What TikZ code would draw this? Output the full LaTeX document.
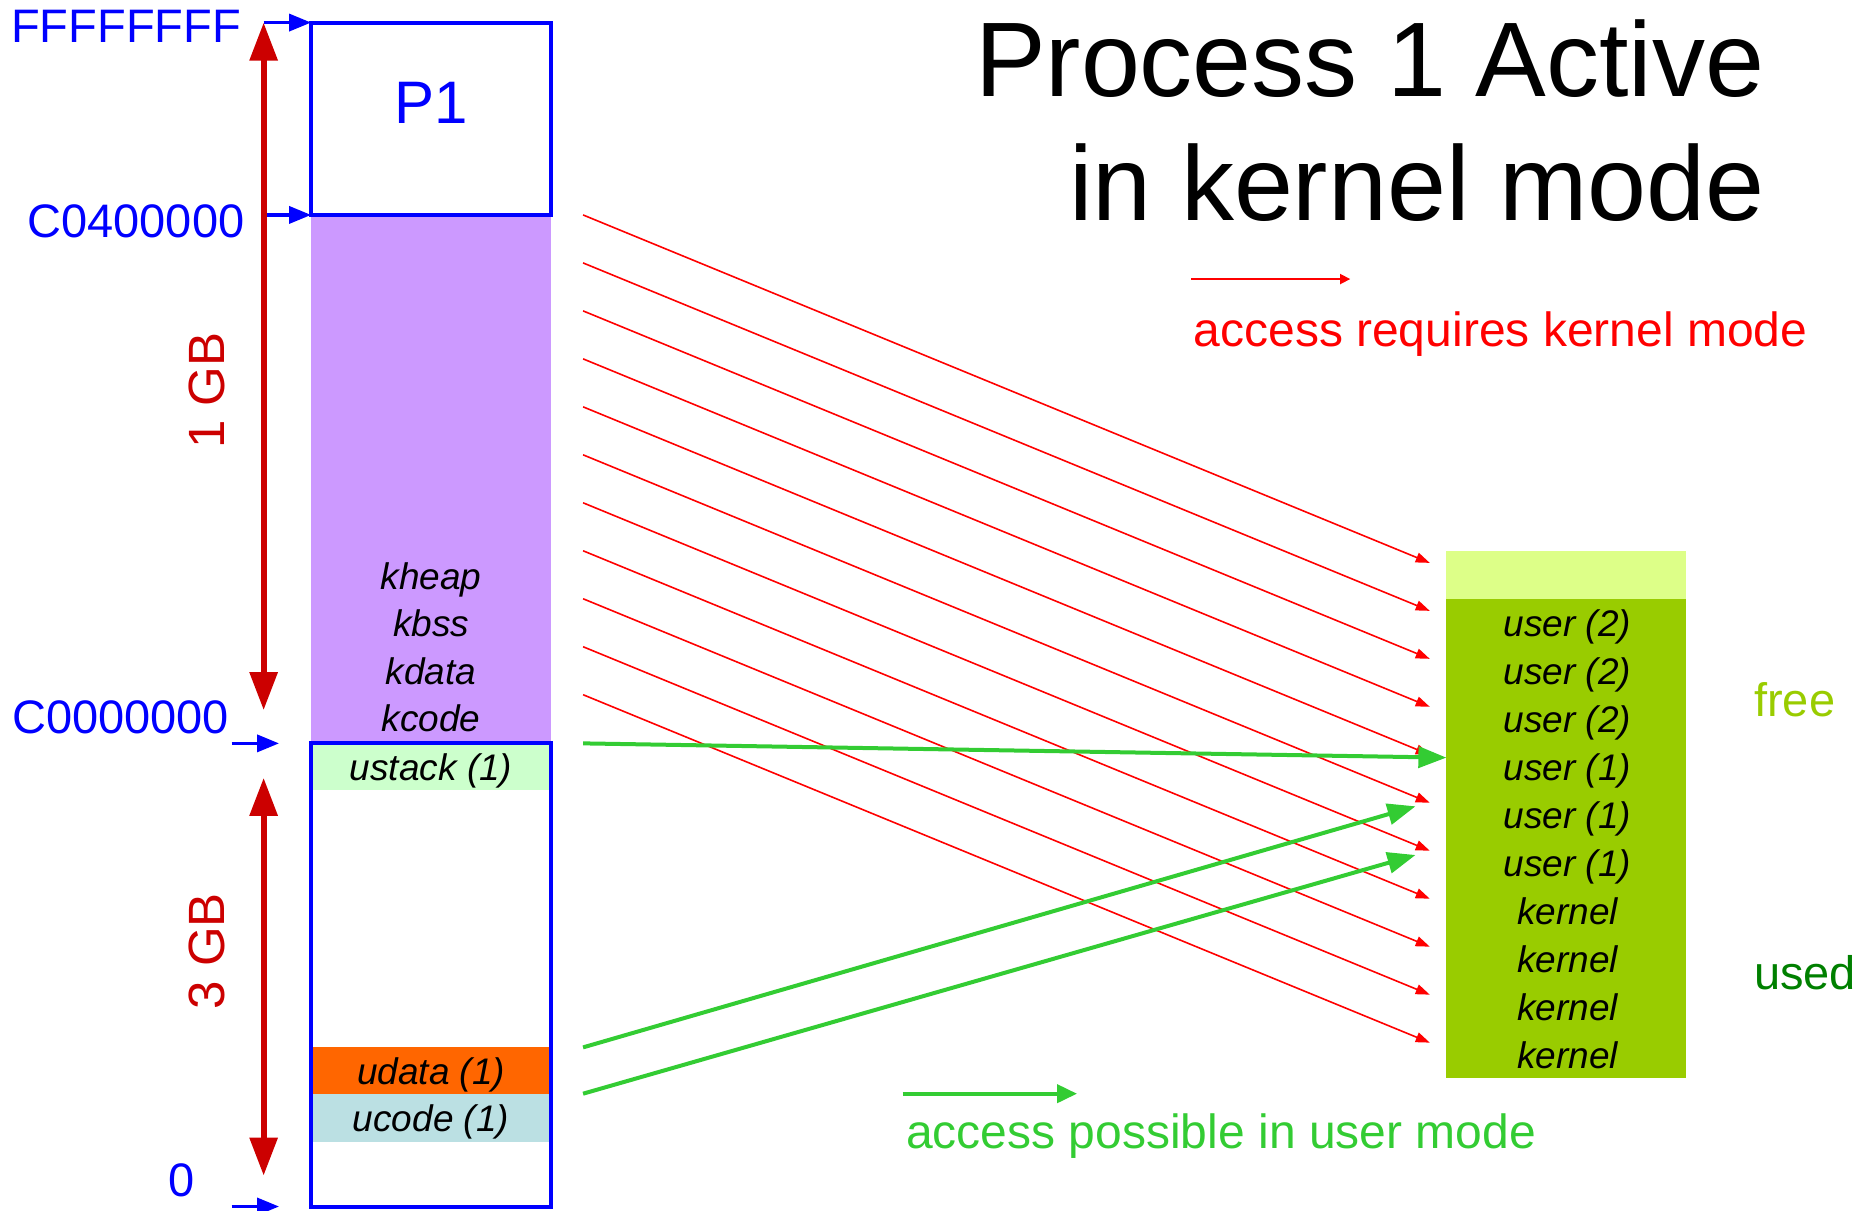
\documentclass[tikz,border=0pt]{standalone}
\usepackage{fontspec}
\setmainfont{Liberation Sans}
\usetikzlibrary{arrows.meta}
\definecolor{addrblue}{HTML}{0000FF}
\definecolor{sizered}{HTML}{CC0000}
\definecolor{kpurple}{HTML}{CC99FF}
\definecolor{ustackc}{HTML}{CCFFCC}
\definecolor{udatac}{HTML}{FF6600}
\definecolor{ucodec}{HTML}{BBE0E3}
\definecolor{freec}{HTML}{DDFF88}
\definecolor{usedc}{HTML}{99CC00}
\definecolor{kred}{HTML}{FF0000}
\definecolor{ugreen}{HTML}{33CC33}
\definecolor{usedtext}{HTML}{008000}
\begin{document}
\begin{tikzpicture}[x=1.1875pt,y=-1.1875pt,
  addrlbl/.style={inner sep=0pt, text=addrblue, font=\fontsize{47}{56}\selectfont},
  sizelbl/.style={inner sep=0pt, text=sizered, rotate=90, font=\fontsize{51}{60}\selectfont},
  rowlbl/.style={inner sep=0pt, anchor=base, font=\fontsize{37}{44}\selectfont\itshape},
  legendlbl/.style={inner sep=0pt, anchor=base west, font=\fontsize{48}{58}\selectfont},
  titlelbl/.style={inner sep=0pt, anchor=base east, font=\fontsize{106}{127}\selectfont},
  blueline/.style={draw=addrblue, line width=4pt},
  addrarrow/.style={draw=addrblue, line width=3.5pt, -{Triangle[length=22pt,width=17pt]}},
  sizearrow/.style={draw=sizered, line width=6pt, {Triangle[length=38pt,width=27pt]}-{Triangle[length=38pt,width=27pt]}},
  karrow/.style={draw=kred, line width=1.6pt, -{Triangle[length=14pt,width=10pt]}},
  uarrow/.style={draw=ugreen, line width=4pt, -{Triangle[length=28pt,width=21pt]}},
]
\useasboundingbox (0,0) rectangle (1568,1019);

% ---- virtual address space of process 1 ----
\fill[kpurple] (262,181) rectangle (464,626);
\fill[ustackc] (262,626) rectangle (464,665);
\fill[udatac]  (262,882) rectangle (464,921);
\fill[ucodec]  (262,921) rectangle (464,962);
\draw[blueline] (262,19) rectangle (464,181);
\draw[blueline] (262,626) rectangle (464,1016);

\node[inner sep=0pt, text=addrblue, font=\fontsize{60}{70}\selectfont] (p1) at (363,87) {P1};
\node[rowlbl] (kheap) at (363,496) {kheap};
\node[rowlbl] (kbss)  at (363,536) {kbss};
\node[rowlbl] (kdata) at (363,576) {kdata};
\node[rowlbl] (kcode) at (363,616) {kcode};
\node[rowlbl] (ustack) at (363,657) {ustack (1)};
\node[rowlbl] (udata)  at (363,913) {udata (1)};
\node[rowlbl] (ucode)  at (363,953) {ucode (1)};

% ---- address marks ----
\node[addrlbl, anchor=east] (aTop)  at (203,22)  {FFFFFFFF};
\node[addrlbl, anchor=east] (aC04)  at (206,186) {C0400000};
\node[addrlbl, anchor=east] (aC00)  at (193,604) {C0000000};
\node[addrlbl]              (aZero) at (153,994) {0};
\coordinate (mTopS) at (222,19);    \coordinate (mTopE) at (262,19);
\coordinate (mC04S) at (222,181);   \coordinate (mC04E) at (262,181);
\coordinate (mC00S) at (195,626);   \coordinate (mC00E) at (235,626);
\coordinate (mZeroS) at (195,1016); \coordinate (mZeroE) at (235,1016);
\draw[addrarrow] (mTopS) -- (mTopE);
\draw[addrarrow] (mC04S) -- (mC04E);
\draw[addrarrow] (mC00S) -- (mC00E);
\draw[addrarrow] (mZeroS) -- (mZeroE);

% ---- region sizes ----
\coordinate (kTop) at (222,19);  \coordinate (kBot) at (222,598);
\coordinate (uTop) at (222,655); \coordinate (uBot) at (222,990);
\draw[sizearrow] (kTop) -- (kBot);
\draw[sizearrow] (uTop) -- (uBot);
\node[sizelbl] (gb1) at (174,329) {1 GB};
\node[sizelbl] (gb3) at (174,801) {3 GB};

% ---- title ----
\node[titlelbl] (title1) at (1486,81)  {Process 1 Active};
\node[titlelbl] (title2) at (1486,186) {in kernel mode};

% ---- physical memory ----
\fill[freec] (1218,464) rectangle (1420,504);
\fill[usedc] (1218,504) rectangle (1420,908);
\foreach \t [count=\i] in {{user (2)},{user (2)},{user (2)},{user (1)},{user (1)},{user (1)},{kernel},{kernel},{kernel},{kernel}}
  \node[rowlbl] (r\i) at (1320, {536+40.4*(\i-1)}) {\t};
\node[inner sep=0pt, anchor=base west, text=usedc, font=\fontsize{47}{56}\selectfont] (free) at (1477,603) {free};
\node[inner sep=0pt, anchor=base west, text=usedtext, font=\fontsize{47}{56}\selectfont] (used) at (1477,833) {used};

% ---- kernel-only mappings ----
\foreach \i in {0,...,10} {
  \coordinate (ks\i) at (491, {181+40.4*\i});
  \coordinate (kt\i) at (1204, {474+40.4*\i});
}
\foreach \i in {0,...,10} \draw[karrow] (ks\i) -- (kt\i);

% ---- user-accessible mappings ----
\coordinate (us1) at (491,626);  \coordinate (ut1) at (1218,638);
\coordinate (us2) at (491,882);  \coordinate (ut2) at (1192,679);
\coordinate (us3) at (491,921);  \coordinate (ut3) at (1192,720);
\draw[uarrow] (us1) -- (ut1);
\draw[uarrow] (us2) -- (ut2);
\draw[uarrow] (us3) -- (ut3);

% ---- legend ----
\coordinate (lkS) at (1003,235); \coordinate (lkE) at (1137,235);
\draw[draw=kred, line width=1.6pt, -{Triangle[length=10pt,width=10pt]}] (lkS) -- (lkE);
\node[legendlbl, text=kred] (lk) at (1005,292) {access requires kernel mode};
\coordinate (luS) at (760,921); \coordinate (luE) at (907,921);
\draw[draw=ugreen, line width=4pt, -{Triangle[length=20pt,width=18pt]}] (luS) -- (luE);
\node[legendlbl, text=ugreen] (lu) at (763,967) {access possible in user mode};
\end{tikzpicture}
\end{document}
